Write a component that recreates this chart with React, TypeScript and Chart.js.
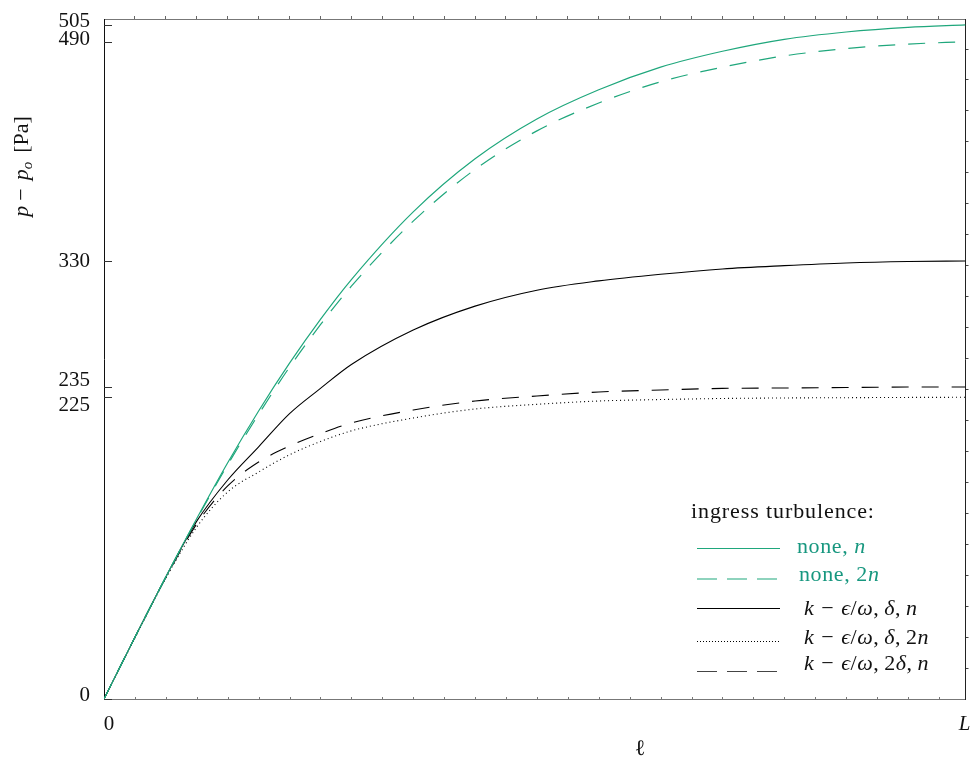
import React, { useEffect, useRef } from "react";
import { Chart, registerables } from "chart.js";

Chart.register(...registerables);

// ---- data (x in units of the minor tick spacing, L = right end) ----
const L_END = 27.86;
const Y_MAX = 512.3;
const Y2_MAX = 21.97;

const xPos = [0, 1, 2, 3, 4, 5, 6, 7, 8, 10, 12, 14, 16, 18, 20, 22, 24, 26, 27.86];
const noneN = [0, 46.5, 92, 136, 178, 217, 253, 286, 316, 367, 407, 437, 459, 476, 488, 497, 502.5, 506, 507.8];
const none2N = [0, 46.5, 92, 135.5, 176.5, 214.5, 250, 282, 311, 360, 399, 428, 449, 465, 476, 484.5, 490, 493.4, 495.2];
const kepsN = [0, 46.5, 92, 134, 165, 190, 215, 234, 252, 278, 296, 308, 315, 320, 324, 326.5, 328.5, 329.6, 330];
const keps2n = [0, 46, 91, 129.6, 156, 171, 184, 194, 202, 211.7, 218.5, 222, 224.5, 225.6, 226.4, 226.8, 227, 227.2, 227.3];
const keps2d = [0, 46.5, 91.5, 132, 160.5, 178.5, 190.6, 200, 208, 217.7, 224.5, 228.3, 231.3, 232.8, 234, 234.3, 234.7, 235, 235];

const yTickValues = [0, 227.3, 235, 330, 495.2, 507.8];
const yTickLabels = ["0", "225", "235", "330", "490", "505"];
const yLabelValues = [3, 221.5, 240, 329.5, 496.5, 510.4];
const xTickValues = [0, L_END];
const xTickLabels = ["0", "L"];

const GREEN = "#1fa77c";
const GREEN_TEXT = "#17977f";
const SERIF = '"Liberation Serif", "Times New Roman", serif';

type Seg = { t?: string; it?: boolean; sub?: boolean; gap?: number };

function segFont(s: Seg, size: number) {
  const sz = s.sub ? Math.round(size * 0.7) : size;
  return `${s.it ? "italic " : ""}${sz}px ${SERIF}`;
}

function drawRich(ctx: CanvasRenderingContext2D, segs: Seg[], x: number, y: number, size: number, color: string, align: "left" | "center", spacing = 0) {
  (ctx as any).letterSpacing = `${spacing}px`;
  let total = 0;
  const widths = segs.map((s) => {
    if (s.gap !== undefined) return s.gap;
    ctx.font = segFont(s, size);
    return ctx.measureText(s.t || "").width;
  });
  widths.forEach((w) => (total += w));
  let cx = align === "center" ? x - total / 2 : x;
  ctx.fillStyle = color;
  ctx.textAlign = "left";
  ctx.textBaseline = "alphabetic";
  segs.forEach((s, i) => {
    if (s.gap === undefined) {
      ctx.font = segFont(s, size);
      ctx.fillText(s.t || "", cx, y + (s.sub ? size * 0.22 : 0));
    }
    cx += widths[i];
  });
  (ctx as any).letterSpacing = "0px";
}

const range = (a: number, b: number) => {
  const r: number[] = [];
  for (let i = a; i <= b; i++) r.push(i);
  return r;
};

const decorPlugin = {
  id: "decor",
  afterDraw(chart: any) {
    const ctx: CanvasRenderingContext2D = chart.ctx;
    const ys = chart.scales.y;
    const xs = chart.scales.x;
    const area = chart.chartArea;
    ctx.save();

    // inward y ticks
    ctx.strokeStyle = "#333";
    ctx.lineWidth = 1;
    yTickValues.forEach((v) => {
      const py = Math.round(ys.getPixelForValue(v)) + 0.5;
      ctx.beginPath();
      ctx.moveTo(area.left, py);
      ctx.lineTo(area.left + 8, py);
      ctx.stroke();
    });
    // tiny inward minor ticks on the bottom axis
    ctx.strokeStyle = "#777";
    range(1, 27).forEach((u) => {
      const px = Math.round(xs.getPixelForValue(u)) + 0.5;
      ctx.beginPath();
      ctx.moveTo(px, area.bottom);
      ctx.lineTo(px, area.bottom - 2);
      ctx.stroke();
    });

    // y tick labels
    ctx.fillStyle = "#111";
    ctx.font = `21px ${SERIF}`;
    ctx.textAlign = "right";
    ctx.textBaseline = "middle";
    yTickLabels.forEach((lab, i) => {
      ctx.fillText(lab, area.left - 14, ys.getPixelForValue(yLabelValues[i]));
    });

    // x tick labels
    ctx.font = `21px ${SERIF}`;
    ctx.textAlign = "center";
    ctx.textBaseline = "alphabetic";
    ctx.fillText(xTickLabels[0], xs.getPixelForValue(xTickValues[0]) + 5, 730);
    ctx.font = `italic 21px ${SERIF}`;
    ctx.fillText(xTickLabels[1], xs.getPixelForValue(xTickValues[1]) - 1, 730);

    // y axis title
    ctx.save();
    ctx.translate(27.5, 166.5);
    ctx.rotate(-Math.PI / 2);
    drawRich(ctx, [
      { t: "p", it: true }, { gap: 5 }, { t: "−" }, { gap: 8 },
      { t: "p", it: true }, { t: "o", it: true, sub: true }, { gap: 9 }, { t: "[Pa]" },
    ], 0, 0, 22, "#111", "center");
    ctx.restore();

    // x axis title
    ctx.font = `22px ${SERIF}`;
    ctx.textAlign = "center";
    ctx.textBaseline = "alphabetic";
    ctx.fillStyle = "#111";
    ctx.fillText("ℓ", area.left + 536, 755);

    // legend
    drawRich(ctx, [{ t: "ingress turbulence:" }], 691, 518, 22, "#111", "left", 0.9);
    const x0 = 697, x1 = 780;
    const sample = (y: number, color: string, dash: number[], w: number) => {
      ctx.save();
      ctx.strokeStyle = color;
      ctx.lineWidth = w;
      ctx.setLineDash(dash);
      ctx.beginPath();
      ctx.moveTo(x0, y);
      ctx.lineTo(x1, y);
      ctx.stroke();
      ctx.restore();
    };
    sample(548.5, GREEN, [], 1.2);
    drawRich(ctx, [{ t: "none, " }, { t: "n", it: true }], 797, 553, 22, GREEN_TEXT, "left", 0.6);
    sample(579, GREEN, [20, 10], 1.2);
    drawRich(ctx, [{ t: "none, 2" }, { t: "n", it: true }], 799, 581, 22, GREEN_TEXT, "left", 0.6);
    const kSegs = (d: string, n: string): Seg[] => [
      { t: "k", it: true }, { gap: 7 }, { t: "−" }, { gap: 7 }, { t: "ϵ", it: true }, { t: "/" }, { t: "ω", it: true },
      { t: "," }, { gap: 5 }, { t: d }, { t: "δ", it: true }, { t: "," }, { gap: 5 }, { t: n }, { t: "n", it: true },
    ];
    sample(608.5, "#000", [], 1.2);
    drawRich(ctx, kSegs("", ""), 804, 615, 22, "#111", "left", 0.5);
    sample(641.5, "#000", [1, 2], 1);
    drawRich(ctx, kSegs("", "2"), 804, 644, 22, "#111", "left", 0.5);
    sample(671.5, "#444", [20, 10], 1.2);
    drawRich(ctx, kSegs("2", ""), 804, 670, 22, "#111", "left", 0.5);

    ctx.restore();
  },
};

function series(label: string, ys: number[], color: string, dash: number[], w: number) {
  return {
    label,
    data: xPos.map((x, i) => ({ x, y: ys[i] })),
    borderColor: color,
    borderWidth: w,
    borderDash: dash,
    pointRadius: 0,
    fill: false,
    cubicInterpolationMode: "monotone" as const,
    xAxisID: "x",
    yAxisID: "y",
  };
}

export default function App() {
  const ref = useRef<HTMLCanvasElement | null>(null);
  useEffect(() => {
    document.body.style.margin = "0";
    document.body.style.overflow = "hidden";
    if (!ref.current) return;
    const chart = new Chart(ref.current, {
      type: "line",
      data: {
        datasets: [
          series("none, n", noneN, GREEN, [], 1.2),
          series("none, 2n", none2N, GREEN, [17, 13], 1.2),
          series("k-eps/omega, delta, n", kepsN, "#000", [], 1.1),
          series("k-eps/omega, delta, 2n", keps2n, "#000", [1, 3], 1.1),
          series("k-eps/omega, 2delta, n", keps2d, "#000", [17, 13], 1.1),
        ],
      },
      options: {
        responsive: false,
        maintainAspectRatio: false,
        animation: false,
        events: [],
        layout: { padding: 0 },
        plugins: { legend: { display: false }, tooltip: { enabled: false }, title: { display: false } },
        scales: {
          x: {
            type: "linear",
            position: "bottom",
            min: 0,
            max: L_END,
            grid: { display: false, drawTicks: false },
            border: { display: true, color: "#777", width: 1 },
            ticks: { display: false },
            afterBuildTicks: (s: any) => {
              s.ticks = xTickValues.map((v) => ({ value: v }));
            },
            afterFit: (s: any) => {
              s.height = 60;
              s.paddingLeft = 0;
              s.paddingRight = 0;
            },
          },
          x2: {
            type: "linear",
            position: "top",
            min: 0,
            max: L_END,
            grid: { display: true, drawOnChartArea: false, drawTicks: true, tickLength: 3, color: "#666" },
            border: { display: true, color: "#777", width: 1 },
            ticks: { display: false, autoSkip: false },
            afterBuildTicks: (s: any) => {
              s.ticks = range(1, 27).map((v) => ({ value: v }));
            },
            afterFit: (s: any) => {
              s.height = 19;
              s.paddingLeft = 0;
              s.paddingRight = 0;
            },
          },
          y: {
            type: "linear",
            position: "left",
            min: 0,
            max: Y_MAX,
            grid: { display: false },
            border: { display: true, color: "#111", width: 1 },
            ticks: { display: false },
            afterFit: (s: any) => {
              s.width = 104;
              s.paddingTop = 0;
              s.paddingBottom = 0;
            },
          },
          y2: {
            type: "linear",
            position: "right",
            min: 0,
            max: Y2_MAX,
            grid: { display: true, drawOnChartArea: false, drawTicks: true, tickLength: 3, color: "#444" },
            border: { display: true, color: "#222", width: 1 },
            ticks: { display: false, autoSkip: false },
            afterBuildTicks: (s: any) => {
              s.ticks = range(1, 21).map((v) => ({ value: v }));
            },
            afterFit: (s: any) => {
              s.width = 4.5;
              s.paddingTop = 0;
              s.paddingBottom = 0;
            },
          },
        },
      } as any,
      plugins: [decorPlugin],
    });
    return () => chart.destroy();
  }, []);

  return (
    <div style={{ position: "fixed", left: 0, top: 0, width: 970, height: 759, background: "#fff" }}>
      <canvas ref={ref} width={970} height={759} style={{ display: "block", width: 970, height: 759 }} />
    </div>
  );
}
